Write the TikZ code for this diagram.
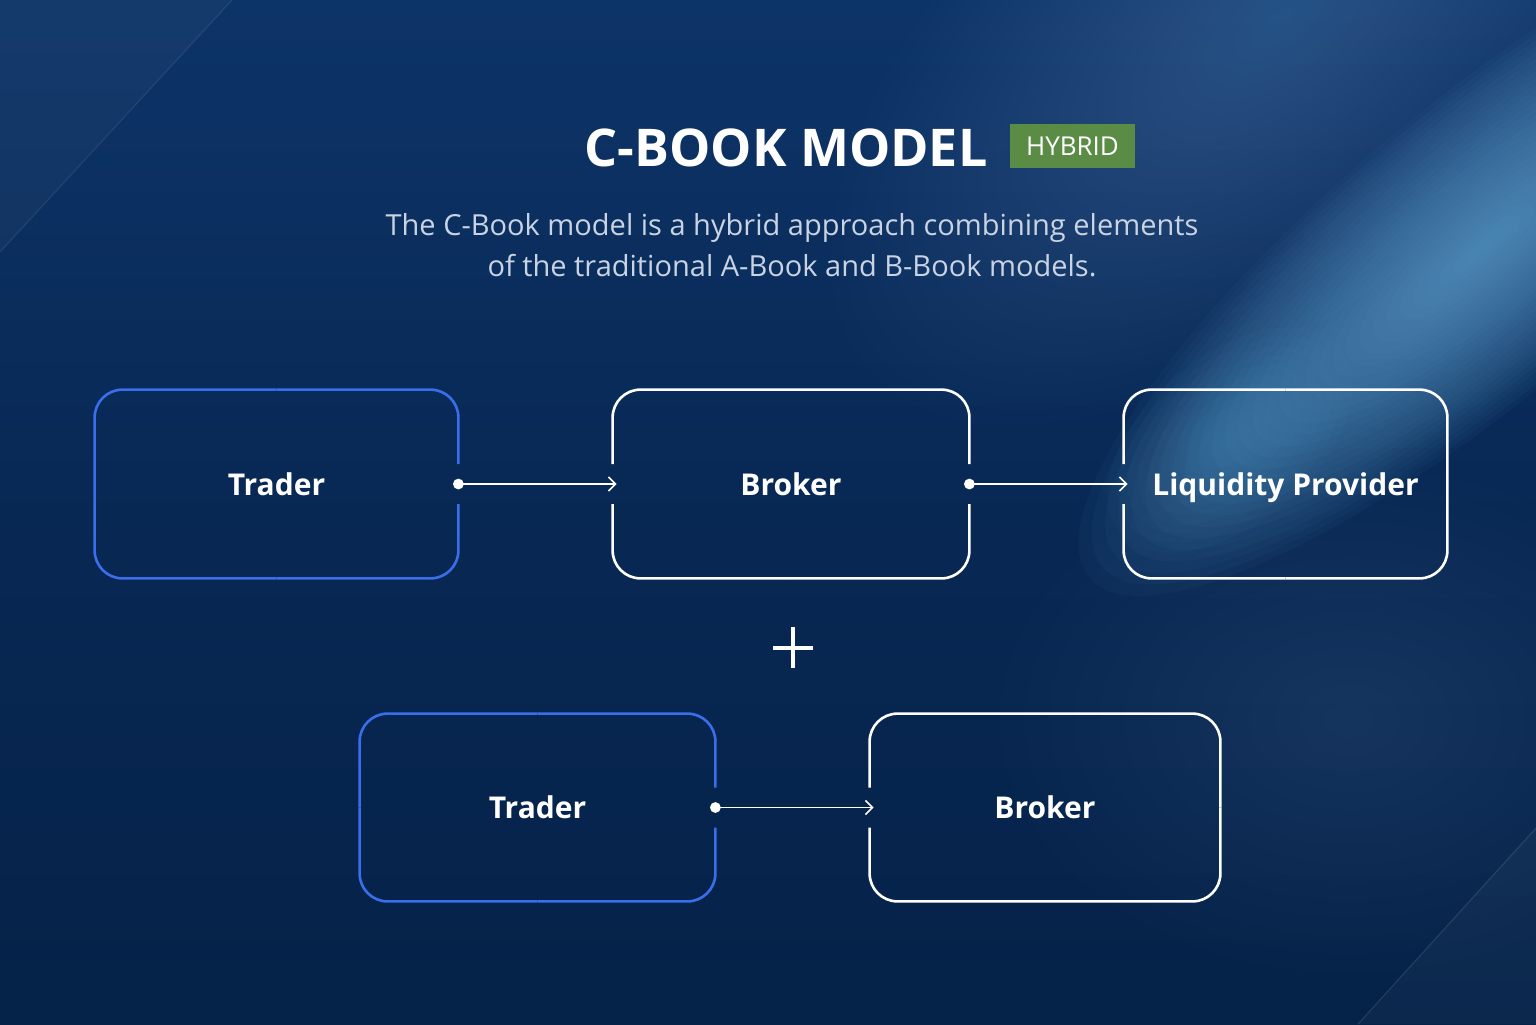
\documentclass[tikz,border=0pt]{standalone}
\usepackage{fontspec}
\setmainfont{Open Sans}
\usetikzlibrary{arrows.meta,calc}
\definecolor{bgtop}{RGB}{13,52,104}
\definecolor{bgmid}{RGB}{8,40,84}
\definecolor{bgbot}{RGB}{5,34,72}
\definecolor{beam}{RGB}{120,190,235}
\definecolor{boxblue}{RGB}{58,110,235}
\definecolor{badgegreen}{RGB}{91,140,70}
\definecolor{subtext}{RGB}{201,211,227}
\newcommand\gapbox[4]{%
  \draw[#2] (#1.north) -| ([yshift=#4]#1.east);
  \draw[#2] ([yshift=-#4]#1.east) |- (#1.south);
  \draw[#2] (#1.north) -| ([yshift=#3]#1.west);
  \draw[#2] ([yshift=-#3]#1.west) |- (#1.south);
}
\begin{document}
\begin{tikzpicture}[x=0.5pt,y=-0.5pt,
  box/.style={inner sep=0pt, text=white, text depth=0pt, font=\bfseries\fontsize{15}{18}\selectfont},
  bluebox/.style={line width=1.3pt, draw=boxblue, rounded corners=14pt},
  whitebox/.style={line width=1.3pt, draw=white, rounded corners=14pt},
  conn/.style={white, line width=0.8pt, -{Straight Barb[length=3.5pt,width=7pt,line width=0.8pt]}, shorten >=-2pt},
  dotc/.style={white}]
\useasboundingbox (0,0) rectangle (1536,1024);
% background
\shade[top color=bgtop, bottom color=bgbot, middle color=bgmid] (0,0) rectangle (1536,1024);
\foreach \i in {1,...,30}
  \fill[beam, opacity=0.01, rotate around={40:(1280,20)}] (1280,20) ellipse [x radius={18*\i}, y radius={9*\i}];
\foreach \i in {1,...,30}
  \fill[beam, opacity=0.034, rotate around={40:(1480,250)}] (1480,250) ellipse [x radius={17*\i}, y radius={4.8*\i}];
\foreach \i in {1,...,12}
  \fill[beam, opacity=0.022, rotate around={40:(1230,440)}] (1230,440) ellipse [x radius={12*\i}, y radius={7*\i}];
\foreach \i in {1,...,14}
  \fill[beam, opacity=0.01] (1350,720) ellipse [x radius={25*\i}, y radius={18*\i}];
\fill[white, opacity=0.03] (0,0) -- (232,0) -- (0,252) -- cycle;
\draw[white, opacity=0.08, line width=0.6pt] (232,0) -- (0,252);
\fill[white, opacity=0.03] (1536,1024) -- (1358,1024) -- (1536,828) -- cycle;
\draw[white, opacity=0.1, line width=0.6pt] (1358,1024) -- (1536,828);
% title
\node[anchor=base west, inner sep=0pt, text=white, font=\bfseries\fontsize{26}{32}\selectfont] (title) at (584,166) {C-BOOK MODEL};
\node[fill=badgegreen, inner sep=0pt, minimum width=62.5pt, minimum height=22pt, text=white, font=\fontsize{13}{15}\selectfont] (badge) at (1072.5,146) {HYBRID};
\node[align=center, text=subtext, font=\fontsize{14.5}{20.5}\selectfont, inner sep=0pt] (sub) at (792,245) {The C-Book model is a hybrid approach combining elements\\of the traditional A-Book and B-Book models.};
% nodes
\node[box, minimum width=181.5pt, minimum height=94pt] (t1) at (276.5,484) {Trader};
\node[box, minimum width=178pt, minimum height=94pt] (b1) at (791,484) {Broker};
\node[box, minimum width=161.5pt, minimum height=94pt] (lp) at (1285.5,484) {Liquidity Provider};
\node[box, minimum width=177.5pt, minimum height=93.5pt] (t2) at (537.5,807.5) {Trader};
\node[box, minimum width=175pt, minimum height=93.5pt] (b2) at (1045,807.5) {Broker};
\gapbox{t1}{bluebox}{0pt}{10pt}
\gapbox{b1}{whitebox}{10pt}{10pt}
\gapbox{lp}{whitebox}{10pt}{0pt}
\gapbox{t2}{bluebox}{0pt}{10pt}
\gapbox{b2}{whitebox}{10pt}{0pt}
% connectors
\draw[conn] (t1.east) -- (b1.west);
\draw[conn] (b1.east) -- (lp.west);
\draw[conn] (t2.east) -- (b2.west);
\fill[dotc] (t1.east) circle (2.7pt);
\fill[dotc] (b1.east) circle (2.7pt);
\fill[dotc] (t2.east) circle (2.7pt);
% plus
\draw[white, line width=2pt] (773,648) -- (813,648) (793,627) -- (793,668);
\end{tikzpicture}
\end{document}
